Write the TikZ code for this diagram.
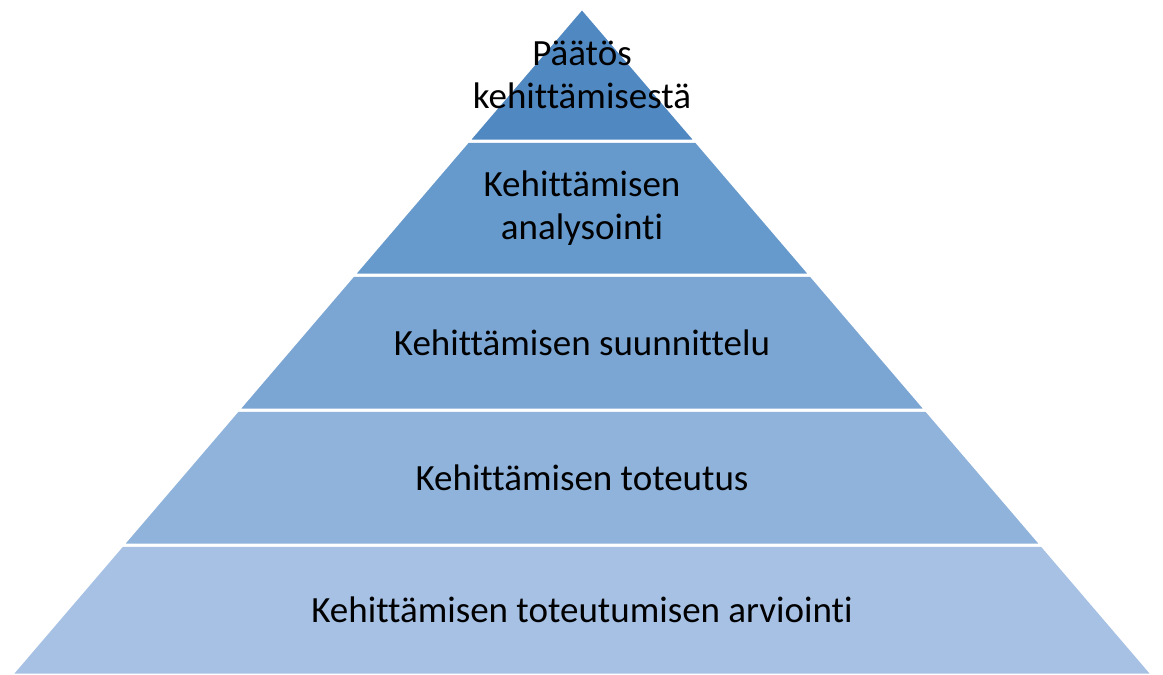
\documentclass[tikz,border=0pt]{standalone}
\usepackage{fontspec}
\setmainfont[Ligatures=NoCommon]{Carlito}
\definecolor{tierA}{RGB}{80,136,194}
\definecolor{tierB}{RGB}{102,153,204}
\definecolor{tierC}{RGB}{123,166,212}
\definecolor{tierD}{RGB}{143,179,219}
\definecolor{tierE}{RGB}{166,193,228}
\tikzset{
  tier/.style={draw=white, line width=3pt, line join=miter},
  tiertext/.style={align=center, font=\fontsize{37}{43}\selectfont, text=black}
}
\begin{document}
\begin{tikzpicture}[x=1pt,y=-1pt]
   \useasboundingbox (0,0) rectangle (1163,675);
   \filldraw[tier, fill=tierE] (122.3,545) -- (1041.7,545) -- (1153,675) -- (11,675) -- cycle;
   \filldraw[tier, fill=tierD] (237.9,410) -- (926.1,410) -- (1041.7,545) -- (122.3,545) -- cycle;
   \filldraw[tier, fill=tierC] (353.4,275) -- (810.6,275) -- (926.1,410) -- (237.9,410) -- cycle;
   \filldraw[tier, fill=tierB] (468.1,141) -- (695.9,141) -- (810.6,275) -- (353.4,275) -- cycle;
   \filldraw[tier, fill=tierA] (582,8) -- (695.9,141) -- (468.1,141) -- cycle;
   \node[tiertext] (paatos) at (582,75) {Päätös\\kehittämisestä};
   \node[tiertext] (analyysi) at (582,208) {Kehittämisen\\analysointi};
   \node[tiertext] (suunnittelu) at (582,343) {Kehittämisen suunnittelu};
   \node[tiertext] (toteutus) at (582,478) {Kehittämisen toteutus};
   \node[tiertext] (arviointi) at (582,610) {Kehittämisen toteutumisen arviointi};
\end{tikzpicture}
\end{document}
